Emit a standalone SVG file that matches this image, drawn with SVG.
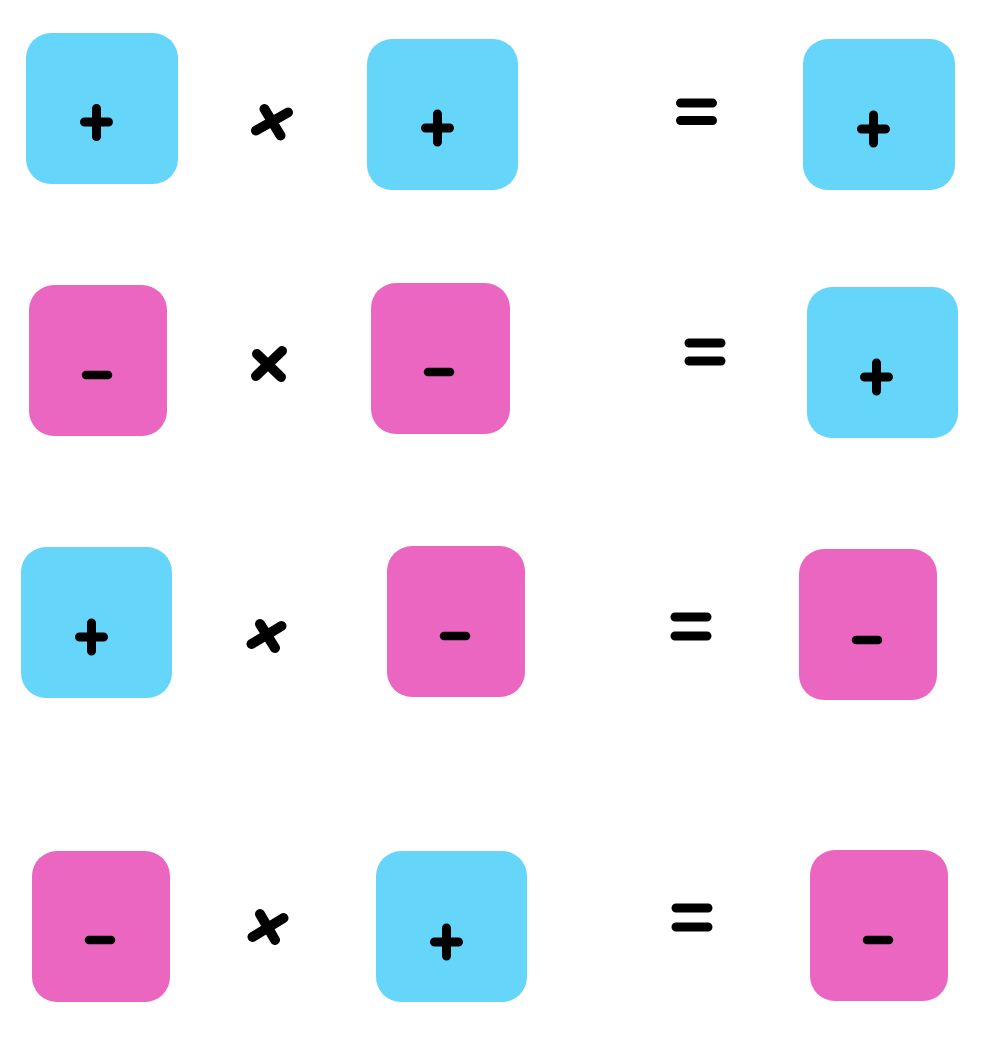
<svg xmlns="http://www.w3.org/2000/svg" width="1008" height="1062" viewBox="0 0 1008 1062">
<style>
.pos{fill:#66D5FA}
.neg{fill:#EA66C0}
.sym{stroke:#000;stroke-linecap:round;fill:none}
.s{stroke-width:9}
.m{stroke-width:8.5}
.op{stroke-width:10}
.eq{stroke-width:9}
</style>
<rect width="1008" height="1062" fill="#fff"/>
<g id="row1">
<g id="box-a"><rect class="pos" x="26" y="33" width="152" height="151" rx="25"/><path class="sym s" d="M84.5 122H108.5M96.5 108.5V136.5"/></g>
<g id="times-1"><path class="sym op" d="M256 130.5L288 112.5M264.5 109L280.5 135.5"/></g>
<g id="box-b"><rect class="pos" x="367" y="39" width="151" height="151" rx="25"/><path class="sym s" d="M425.5 128H449.5M437.5 114V142"/></g>
<g id="equals-1"><path class="sym eq" d="M680.5 103H712.5M680.5 120.5H712.5"/></g>
<g id="box-c"><rect class="pos" x="803" y="39" width="152" height="151" rx="25"/><path class="sym s" d="M861.5 129H885.5M873.5 115V143"/></g>
</g>
<g id="row2">
<g id="box-d"><rect class="neg" x="29" y="285" width="138" height="151" rx="25"/><path class="sym m" d="M86 375H108"/></g>
<g id="times-2"><path class="sym op" d="M257 354L281 377M282 351L256 376"/></g>
<g id="box-e"><rect class="neg" x="371" y="283" width="139" height="151" rx="25"/><path class="sym m" d="M428 372H450"/></g>
<g id="equals-2"><path class="sym eq" d="M689 343H721M689 361H721"/></g>
<g id="box-f"><rect class="pos" x="807" y="287" width="151" height="151" rx="25"/><path class="sym s" d="M864.5 377H888.5M876.5 363V391"/></g>
</g>
<g id="row3">
<g id="box-g"><rect class="pos" x="21" y="547" width="151" height="151" rx="25"/><path class="sym s" d="M79.5 637H103.5M91.5 623V651"/></g>
<g id="times-3"><path class="sym op" d="M251.5 644L281.5 626M260 624L275 648"/></g>
<g id="box-h"><rect class="neg" x="387" y="546" width="138" height="151" rx="25"/><path class="sym m" d="M444 636H466"/></g>
<g id="equals-3"><path class="sym eq" d="M675 617H707M675 636H707"/></g>
<g id="box-i"><rect class="neg" x="799" y="549" width="138" height="151" rx="25"/><path class="sym m" d="M856 640H878"/></g>
</g>
<g id="row4">
<g id="box-j"><rect class="neg" x="32" y="851" width="138" height="151" rx="25"/><path class="sym m" d="M89 940H111"/></g>
<g id="times-4"><path class="sym op" d="M252.5 937L283.5 918M260 914L275 940"/></g>
<g id="box-k"><rect class="pos" x="376" y="851" width="151" height="151" rx="25"/><path class="sym s" d="M434.5 942H458.5M446.5 928V956"/></g>
<g id="equals-4"><path class="sym eq" d="M676 908H708M676 927H708"/></g>
<g id="box-l"><rect class="neg" x="810" y="850" width="138" height="151" rx="25"/><path class="sym m" d="M867 940H889"/></g>
</g>
</svg>
